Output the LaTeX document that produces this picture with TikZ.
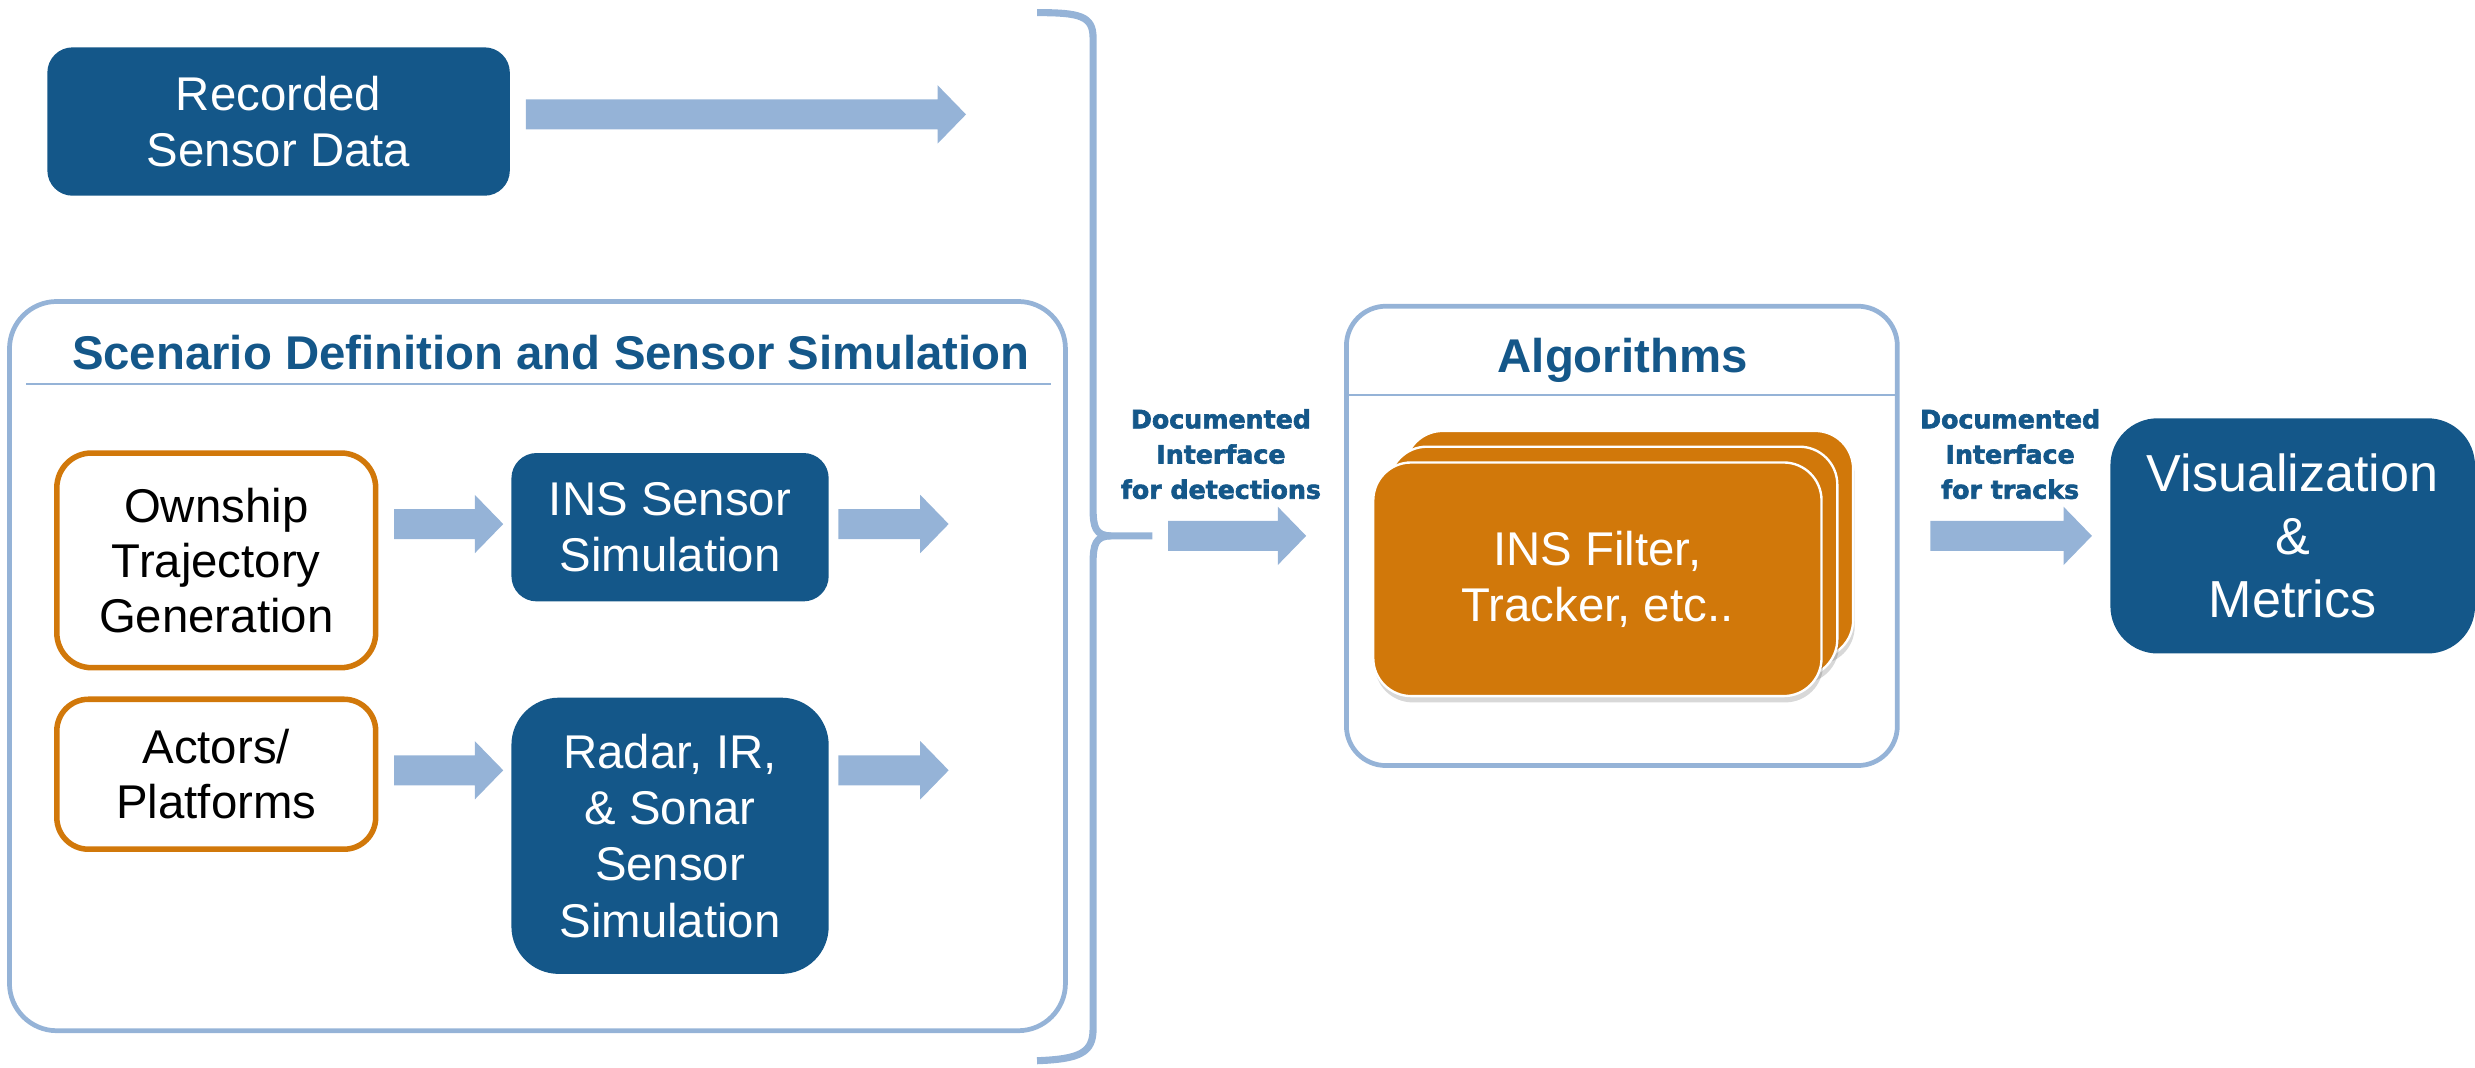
\documentclass[tikz,border=0pt]{standalone}
\usepackage{fontspec}
\setmainfont{Liberation Sans}
\newfontfamily\labfont{DejaVu Sans}[BoldFeatures={FakeBold=2.5}]
\usetikzlibrary{calc,shadows}
\definecolor{dkblue}{RGB}{20,87,137}
\definecolor{ltblue}{RGB}{149,179,215}
\definecolor{orng}{RGB}{209,120,10}
\begin{document}
\begin{tikzpicture}[x=1pt,y=-1pt,
  darkbox/.style={rounded corners=16pt, fill=dkblue, text=white, align=center, inner sep=0pt,
    font=\fontsize{30}{36}\selectfont},
  orbox/.style={rounded corners=22pt, draw=orng, line width=3.5pt, fill=white, text=black,
    align=center, inner sep=0pt, font=\fontsize{30}{35}\selectfont},
  container/.style={rounded corners=30pt, draw=ltblue, line width=3pt, inner sep=0pt},
  boxtitle/.style={text=dkblue, inner sep=0pt, font=\bfseries\fontsize{30}{36}\selectfont},
  lab/.style={text=dkblue, align=center, inner sep=0pt, font=\labfont\bfseries\fontsize{16}{22.3}\selectfont},
  card/.style={rounded corners=24pt, fill=orng, draw=white, line width=1.5pt, inner sep=0pt,
    minimum width=284pt, drop shadow={shadow xshift=1pt, shadow yshift=-4pt, opacity=0.22, fill=black!70}},
  blockarrow/.style={draw=none, fill=ltblue, to path={let \p1=(\tikztostart), \p2=(\tikztotarget) in
    (\x1,\y1+9.5pt) -- (\x2-18pt,\y1+9.5pt) -- (\x2-18pt,\y1+18.5pt) -- (\x2,\y1)
    -- (\x2-18pt,\y1-18.5pt) -- (\x2-18pt,\y1-9.5pt) -- (\x1,\y1-9.5pt) -- cycle}},
  bracestyle/.style={draw=ltblue, line width=4.5pt}
]
\useasboundingbox (0,0) rectangle (1568,676);

% Recorded sensor data
\node[darkbox, minimum width=293pt, minimum height=94pt] (rec) at (176.5,77) {Recorded\\Sensor Data};

% Scenario container
\node[container, minimum width=669pt, minimum height=462pt] (scen) at (340.5,422) {};
\node[boxtitle, anchor=base] (scentitle) at (349,234) {Scenario Definition and Sensor Simulation};
\draw[ltblue, line width=1.2pt] (16.5,243) -- (666,243);

\node[orbox, minimum width=202pt, minimum height=136pt] (own) at (137,355) {Ownship\\Trajectory\\Generation};
\node[orbox, rounded corners=20pt, minimum width=202pt, minimum height=95pt] (act) at (137,490.5) {Actors/\\Platforms};
\node[darkbox, minimum width=201pt, minimum height=94pt, font=\fontsize{30}{35}\selectfont] (ins) at (424.5,334) {INS Sensor\\Simulation};
\node[darkbox, rounded corners=30pt, minimum width=201pt, minimum height=175pt, font=\fontsize{30}{35.7}\selectfont] (radar) at (424.5,529.5) {Radar, IR,\\\& Sonar\\Sensor\\Simulation};

% Brace
\coordinate (bracetip) at (730,339.5);
\draw[bracestyle] (657,8) .. controls (684,8) and (692.5,10) .. (692.5,24) -- (692.5,322)
  .. controls (692.5,334) and (694,339.5) .. (704,339.5) -- (bracetip);
\draw[bracestyle] (704,339.5) .. controls (694,339.5) and (692.5,345) .. (692.5,357) -- (692.5,652)
  .. controls (692.5,667) and (684,671) .. (657,672);

% Algorithms container
\node[container, rounded corners=25pt, minimum width=349pt, minimum height=291pt] (algc) at (1027.5,339.5) {};
\node[boxtitle, anchor=base] (algtitle) at (1028,236) {Algorithms};
\draw[ltblue, line width=1.2pt] (853,250) -- (1202,250);
\node[card, minimum height=144pt] (card3) at (1032,345) {};
\node[card, minimum height=146pt] (card2) at (1022,356) {};
\node[card, minimum height=148pt, text=white, align=center, font=\fontsize{30}{36}\selectfont] (algo) at (1012,367) {INS Filter,\\Tracker, etc..};

% Visualization
\node[darkbox, rounded corners=30pt, minimum width=231pt, minimum height=149pt, font=\fontsize{33}{40}\selectfont] (viz) at (1452.5,339.5) {Visualization\\\&\\Metrics};

% Labels
\node[lab, anchor=north] (labdet) at (773.5,259) {Documented\\Interface\\for detections};
\node[lab, anchor=north] (labtrk) at (1273.5,259) {Documented\\Interface\\for tracks};

% Arrow coordinates
\coordinate (a1s) at ($(rec.east)+(10,-4.5)$);
\coordinate (a1e) at (612,72.5);
\coordinate (a2s) at ($(own.east |- ins.west)+(10,-2)$);
\coordinate (a2e) at ($(ins.west)+(-5,-2)$);
\coordinate (a3s) at ($(ins.east)+(6,-2)$);
\coordinate (a3e) at (601,332);
\coordinate (a4s) at ($(act.east)+(10,-2.5)$);
\coordinate (a4e) at ($(radar.west |- a4s)+(-5,0)$);
\coordinate (a5s) at ($(radar.east |- a4s)+(6,0)$);
\coordinate (a5e) at (601,488);
\coordinate (a6s) at ($(bracetip)+(10,0)$);
\coordinate (a6e) at ($(algc.west)+(-24,0)$);
\coordinate (a7s) at ($(algc.east)+(19.5,0)$);
\coordinate (a7e) at ($(viz.west)+(-11.5,0)$);

\path[blockarrow] (a1s) to (a1e);
\path[blockarrow] (a2s) to (a2e);
\path[blockarrow] (a3s) to (a3e);
\path[blockarrow] (a4s) to (a4e);
\path[blockarrow] (a5s) to (a5e);
\path[blockarrow] (a6s) to (a6e);
\path[blockarrow] (a7s) to (a7e);
\end{tikzpicture}
\end{document}
